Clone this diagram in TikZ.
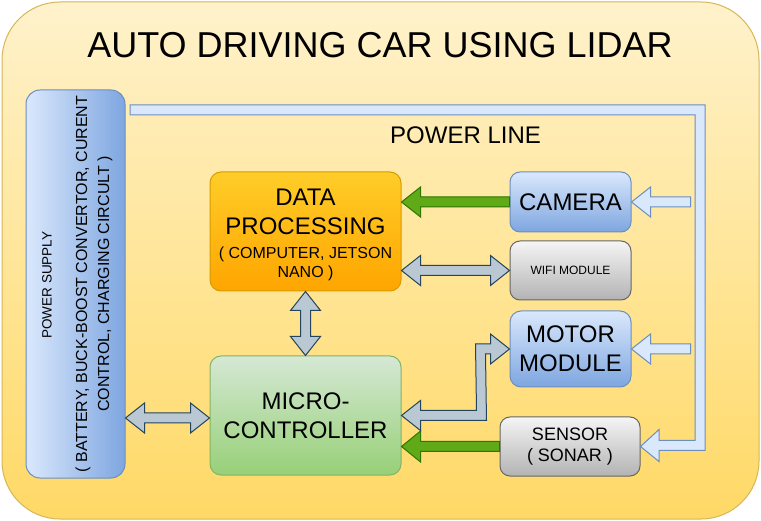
\documentclass[tikz,border=0pt]{standalone}
\usepackage{fontspec}
\setmainfont{Liberation Sans}
\usetikzlibrary{calc}
\definecolor{frameT}{HTML}{FFF2CC}
\definecolor{frameB}{HTML}{FFD966}
\definecolor{frameD}{HTML}{D6B656}
\definecolor{blueT}{HTML}{DAE8FC}
\definecolor{blueB}{HTML}{7EA6E0}
\definecolor{blueD}{HTML}{6C8EBF}
\definecolor{grayT}{HTML}{F5F5F5}
\definecolor{grayB}{HTML}{B3B3B3}
\definecolor{grayD}{HTML}{666666}
\definecolor{orT}{HTML}{FFCD28}
\definecolor{orB}{HTML}{FFA500}
\definecolor{orD}{HTML}{D79B00}
\definecolor{grT}{HTML}{D5E8D4}
\definecolor{grB}{HTML}{97D077}
\definecolor{grD}{HTML}{82B366}
\definecolor{gaF}{HTML}{60A917}
\definecolor{gaD}{HTML}{2D7600}
\definecolor{bgF}{HTML}{BAC8D3}
\definecolor{bgD}{HTML}{23445D}
\newcommand\fs[2]{\fontsize{#1}{#2}\selectfont}
% single-headed flex arrow: style, tail, tip, shaft half width, head half width
\newcommand\arrowone[5]{%
  \draw[#1] ($(#2)!#4!90:(#3)$) -- ($(#3)!19pt!(#2)!#4!90:(#3)$) --
    ($(#3)!19pt!(#2)!#5!90:(#3)$) -- (#3) -- ($(#3)!19pt!(#2)!#5!-90:(#3)$) --
    ($(#3)!19pt!(#2)!#4!-90:(#3)$) -- ($(#2)!#4!-90:(#3)$) -- cycle;}
% double-headed flex arrow
\newcommand\arrowtwo[5]{%
  \draw[#1] (#2) -- ($(#2)!19pt!(#3)!#5!90:(#3)$) -- ($(#2)!19pt!(#3)!#4!90:(#3)$) --
    ($(#3)!19pt!(#2)!#4!90:(#3)$) -- ($(#3)!19pt!(#2)!#5!90:(#3)$) -- (#3) --
    ($(#3)!19pt!(#2)!#5!-90:(#3)$) -- ($(#3)!19pt!(#2)!#4!-90:(#3)$) --
    ($(#2)!19pt!(#3)!#4!-90:(#3)$) -- ($(#2)!19pt!(#3)!#5!-90:(#3)$) -- cycle;}
\tikzset{
  box/.style={draw, line width=1pt, rounded corners=11pt, align=center, inner sep=0pt},
  bluebox/.style={box, top color=blueT, bottom color=blueB, draw=blueD},
  graybox/.style={box, top color=grayT, bottom color=grayB, draw=grayD},
  orbox/.style={box, top color=orT, bottom color=orB, draw=orD},
  grbox/.style={box, top color=grT, bottom color=grB, draw=grD},
  greenarrow/.style={fill=gaF, draw=gaD, line width=1pt},
  bgarrow/.style={fill=bgF, draw=bgD, line width=1pt},
  plarrow/.style={fill=blueT, draw=blueD, line width=1pt},
}
\begin{document}
\begin{tikzpicture}[x=1pt, y=-1pt]
\useasboundingbox (0,0) rectangle (761,521);
\node[draw=frameD, line width=1pt, top color=frameT, bottom color=frameB,
  rounded corners=58pt, minimum width=757pt, minimum height=517pt, inner sep=0pt]
  (frame) at (380.5,260.5) {};
\node[font=\fs{36}{43}] (title) at (380,45) {AUTO DRIVING CAR USING LIDAR};

% boxes
\node[draw=blueD, line width=1pt, left color=blueT, right color=blueB,
  rounded corners=14pt, minimum width=99pt, minimum height=388pt, inner sep=0pt]
  (ps) at (75.5,284) {};
\node[rotate=90, font=\fs{13.5}{16}] (pst) at (47,285) {POWER SUPPLY};
\node[rotate=90, align=center, font=\fs{16}{22}] (psd) at (94,284)
  {( BATTERY, BUCK-BOOST CONVERTOR, CURENT\\CONTROL, CHARGING CIRCULT )};

\node[orbox, minimum width=191pt, minimum height=119pt, font=\fs{24}{29}] (dp) at (305.5,231.5)
  {\rule{0pt}{23.5pt}DATA\\PROCESSING\\[-5pt]{\fs{16}{19}( COMPUTER, JETSON}\\[-10pt]{\fs{16}{19}NANO )}};
\node[grbox, minimum width=191pt, minimum height=119pt, font=\fs{24}{28.5}] (mcu) at (305.5,415.5)
  {MICRO-\\CONTROLLER};
\node[bluebox, rounded corners=10pt, minimum width=121pt, minimum height=60pt, font=\fs{24}{29}] (cam) at (570.5,202)
  {CAMERA};
\node[graybox, rounded corners=10pt, minimum width=121pt, minimum height=59pt, font=\fs{12}{14}] (wifi) at (570.5,270.5)
  {WIFI MODULE};
\node[bluebox, minimum width=121pt, minimum height=76pt, font=\fs{24}{29}] (motor) at (570.5,349)
  {MOTOR\\MODULE};
\node[graybox, rounded corners=10pt, minimum width=140pt, minimum height=59pt, font=\fs{18}{21}] (sensor) at (570,446.5)
  {SENSOR\\( SONAR )};

\node[font=\fs{24}{29}, anchor=west, inner sep=0pt] (pl) at (390,135) {POWER LINE};

% power line
\draw[plarrow] (130,105) -- (705,105) -- (705,450.5) -- (659,450.5) -- (659,461.5) --
  (sensor.east) -- (659,429.5) -- (659,440.5) -- (695,440.5) -- (695,115) -- (130,115) -- cycle;
\coordinate (cf) at ($(cam.east)+(59,0)$);
\coordinate (mf) at ($(motor.east)+(59,0)$);
\arrowone{plarrow}{cf}{cam.east}{5pt}{15pt}
\arrowone{plarrow}{mf}{motor.east}{5pt}{15pt}

% data arrows
\coordinate (camtip) at (cam.west -| dp.east);
\coordinate (sentip) at (sensor.west -| mcu.east);
\arrowone{greenarrow}{cam.west}{camtip}{5pt}{15pt}
\arrowone{greenarrow}{sensor.west}{sentip}{5pt}{15.5pt}

\coordinate (wifitip) at (wifi.west -| dp.east);
\arrowtwo{bgarrow}{wifitip}{wifi.west}{5pt}{15pt}
\arrowtwo{bgarrow}{dp.south}{mcu.north}{5pt}{15pt}
\coordinate (ylev) at (0,418);
\coordinate (pse) at (ps.east |- ylev);
\coordinate (mcw) at (mcu.west |- ylev);
\arrowtwo{bgarrow}{pse}{mcw}{5pt}{15pt}

% micro-controller <-> motor (elbow)
\draw[bgarrow] (mcu.east) -- ($(mcu.east)+(19,-15)$) -- ($(mcu.east)+(19,-5)$) --
  ($(mcu.east)+(75,-5)$) -- ($(motor.west)+(-34,-5)$) -- ($(motor.west)+(-19,-5)$) --
  ($(motor.west)+(-19,-15)$) -- (motor.west) -- ($(motor.west)+(-19,15)$) --
  ($(motor.west)+(-19,5)$) -- ($(motor.west)+(-24,5)$) -- ($(mcu.east)+(85,5)$) --
  ($(mcu.east)+(19,5)$) -- ($(mcu.east)+(19,15)$) -- cycle;
\end{tikzpicture}
\end{document}
